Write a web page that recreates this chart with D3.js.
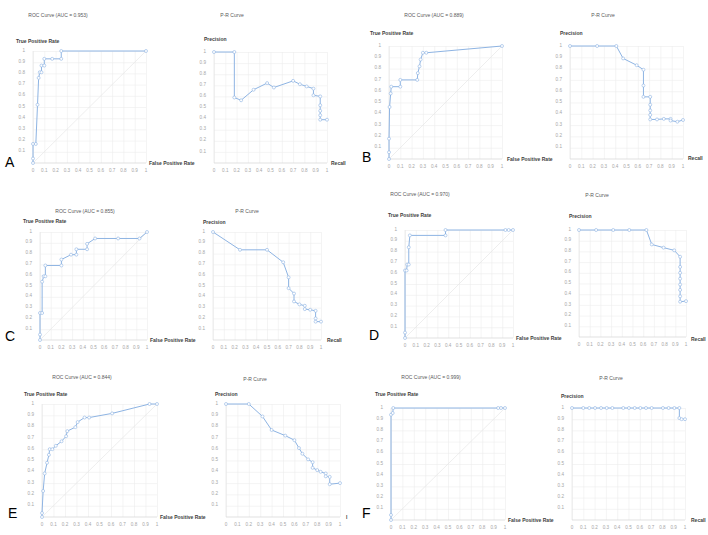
<!DOCTYPE html>
<html><head><meta charset="utf-8">
<script src="https://cdn.jsdelivr.net/npm/d3@7"></script>
<style>
html,body{margin:0;padding:0;background:#fff;}
svg{display:block;font-family:"Liberation Sans",Arial,sans-serif;}
</style></head>
<body><svg id="c" width="708" height="535"></svg>
<script>
// ---- data ----
const panelLetters = ["A","B","C","D","E","F"];
const rocTitles = ["ROC Curve (AUC = 0.953)","ROC Curve (AUC = 0.889)","ROC Curve (AUC = 0.855)","ROC Curve (AUC = 0.970)","ROC Curve (AUC = 0.844)","ROC Curve (AUC = 0.999)"];
const prTitle = "P-R Curve";
const xTicks = [0,0.1,0.2,0.3,0.4,0.5,0.6,0.7,0.8,0.9,1];
const xTickLabels = ["0","0.1","0.2","0.3","0.4","0.5","0.6","0.7","0.8","0.9","1"];
const yTicks = [0.1,0.2,0.3,0.4,0.5,0.6,0.7,0.8,0.9,1];
const yTickLabels = ["0.1","0.2","0.3","0.4","0.5","0.6","0.7","0.8","0.9","1"];

const rocA_fpr = [0,0,0,0.025,0.04,0.05,0.06,0.075,0.075,0.1,0.1,0.17,0.25,0.25,1];
const rocA_tpr = [0,0.04,0.17,0.17,0.52,0.76,0.81,0.81,0.87,0.87,0.93,0.93,0.93,1,1];
const prA_recall = [0,0.18,0.18,0.24,0.35,0.47,0.53,0.70,0.76,0.82,0.88,0.88,0.94,0.94,0.94,0.94,0.94,1];
const prA_precision = [1,1,0.59,0.565,0.66,0.72,0.68,0.74,0.71,0.69,0.67,0.61,0.60,0.52,0.47,0.43,0.39,0.39];

const rocB_fpr = [0,0,0,0.005,0.015,0.02,0.1,0.1,0.25,0.255,0.27,0.28,0.3,0.33,1];
const rocB_tpr = [0,0.06,0.18,0.46,0.58,0.64,0.64,0.7,0.7,0.76,0.82,0.88,0.94,0.94,1];
const prB_recall = [0,0.24,0.41,0.47,0.59,0.65,0.65,0.65,0.71,0.71,0.71,0.71,0.71,0.77,0.83,0.89,0.89,0.95,1];
const prB_precision = [1,1,1,0.89,0.83,0.79,0.65,0.55,0.55,0.48,0.43,0.39,0.35,0.35,0.355,0.355,0.34,0.33,0.345];

const rocC_fpr = [0,0,0,0.02,0.02,0.035,0.05,0.05,0.2,0.2,0.29,0.34,0.34,0.44,0.44,0.515,0.73,0.93,1];
const rocC_tpr = [0,0.05,0.25,0.25,0.54,0.59,0.59,0.69,0.69,0.745,0.79,0.79,0.84,0.84,0.89,0.94,0.94,0.94,1];
const prC_recall = [0,0.25,0.5,0.65,0.70,0.70,0.75,0.75,0.80,0.85,0.85,0.90,0.95,0.95,0.95,1];
const prC_precision = [1,0.835,0.835,0.72,0.58,0.48,0.43,0.357,0.33,0.317,0.286,0.28,0.27,0.20,0.17,0.17];

const rocD_fpr = [0,0,0,0.015,0.02,0.035,0.035,0.045,0.375,0.375,0.93,0.96,1];
const rocD_tpr = [0,0.05,0.625,0.625,0.68,0.68,0.84,0.95,0.95,1,1,1,1];
const prD_recall = [0,0.16,0.32,0.47,0.63,0.68,0.79,0.89,0.945,0.945,0.945,0.945,0.945,0.945,0.945,0.945,1];
const prD_precision = [1,1,1,1,1,0.865,0.835,0.81,0.75,0.655,0.60,0.545,0.49,0.44,0.38,0.33,0.335];

const rocE_fpr = [0,0,0.01,0.023,0.044,0.06,0.067,0.09,0.12,0.17,0.21,0.22,0.29,0.31,0.37,0.41,0.61,0.935,1];
const rocE_tpr = [0,0.035,0.23,0.385,0.48,0.55,0.6,0.6,0.63,0.67,0.715,0.76,0.795,0.84,0.88,0.88,0.917,1,1];
const prE_recall = [0,0.2,0.32,0.40,0.52,0.60,0.64,0.67,0.72,0.76,0.76,0.80,0.83,0.875,0.875,0.91,0.91,1];
const prE_precision = [1,1,0.89,0.77,0.72,0.68,0.61,0.56,0.51,0.485,0.435,0.415,0.40,0.385,0.36,0.355,0.29,0.30];

const rocF_fpr = [0,0,0,0.015,0.02,0.94,0.965,1];
const rocF_tpr = [0,0.045,0.94,0.955,1,1,1,1];
const prF_recall = [0,0.1,0.153,0.204,0.257,0.307,0.357,0.454,0.504,0.555,0.605,0.655,0.705,0.805,0.855,0.906,0.95,0.95,0.97,1];
const prF_precision = [1,1,1,1,1,1,1,1,1,1,1,1,1,1,1,1,1,0.91,0.9,0.9];

const rocData = [[rocA_fpr,rocA_tpr],[rocB_fpr,rocB_tpr],[rocC_fpr,rocC_tpr],[rocD_fpr,rocD_tpr],[rocE_fpr,rocE_tpr],[rocF_fpr,rocF_tpr]];
const prData = [[prA_recall,prA_precision],[prB_recall,prB_precision],[prC_recall,prC_precision],[prD_recall,prD_precision],[prE_recall,prE_precision],[prF_recall,prF_precision]];

// ---- layout (positions only) ----
const layout = [
 {letter:[5,167], roc:{x0:33,x1:146,yT:51,yB:163,title:[58,15],ylab:[16,41],xlab:[149,163]}, pr:{x0:214,x1:327,yT:52,yB:163,title:[232,15],ylab:[204,39],xlab:[331,163]}},
 {letter:[362,162], roc:{x0:389,x1:502,yT:46,yB:159,title:[434,15],ylab:[370,33],xlab:[507,159]}, pr:{x0:570,x1:683,yT:46,yB:159,title:[603,15],ylab:[560,33],xlab:[688,158]}},
 {letter:[5,341], roc:{x0:40,x1:147,yT:232,yB:340,title:[85,211],ylab:[23,221],xlab:[150,340]}, pr:{x0:213,x1:321,yT:232,yB:340,title:[247,211],ylab:[203,222],xlab:[327,340]}},
 {letter:[369,340], roc:{x0:405,x1:513,yT:230,yB:338,title:[420,194],ylab:[388,215],xlab:[516,338]}, pr:{x0:579,x1:686,yT:230,yB:337,title:[597,195],ylab:[569,216],xlab:[691,339]}},
 {letter:[8,518], roc:{x0:42,x1:157,yT:404,yB:517,title:[82,377],ylab:[24,394],xlab:[160,517]}, pr:{x0:226,x1:340,yT:404,yB:517,title:[255,379],ylab:[215,394],xlab:[346,517], xlabText:"l"}},
 {letter:[362,518], roc:{x0:391,x1:505,yT:408,yB:520,title:[431,377],ylab:[375,394],xlab:[508,520]}, pr:{x0:572,x1:685,yT:408,yB:520,title:[611,378],ylab:[561,396],xlab:[691,520]}}
];

const LINE = "#8eb4e3";
const svg = d3.select("#c");

function drawPlot(L, xs, ys, title, ylabText, xlabText, diag) {
  const g = svg.append("g");
  const x = d3.scaleLinear().domain([0,1]).range([L.x0, L.x1]);
  const y = d3.scaleLinear().domain([0,1]).range([L.yB, L.yT]);
  // grid
  const gx = g.append("g").attr("transform",`translate(0,${L.yB})`)
    .call(d3.axisBottom(x).tickValues(xTicks).tickSize(-(L.yB-L.yT)).tickFormat(""));
  gx.select(".domain").remove();
  gx.selectAll(".tick line").attr("stroke","#ececec").attr("stroke-width",0.6);
  const gy = g.append("g").attr("transform",`translate(${L.x0},0)`)
    .call(d3.axisLeft(y).tickValues(yTicks).tickSize(-(L.x1-L.x0)).tickFormat(""));
  gy.select(".domain").remove();
  gy.selectAll(".tick line").attr("stroke","#ececec").attr("stroke-width",0.6);
  // axis lines
  g.append("line").attr("x1",x(0)).attr("x2",x(1)).attr("y1",y(0)).attr("y2",y(0)).attr("stroke","#d9d9d9").attr("stroke-width",0.8);
  g.append("line").attr("x1",x(0)).attr("x2",x(0)).attr("y1",y(0)).attr("y2",y(1)).attr("stroke","#e3e3e3").attr("stroke-width",0.6);
  // tick labels
  g.append("g").selectAll("text").data(xTicks).join("text")
    .attr("x",d=>x(d)).attr("y",L.yB+7).attr("dy","0.35em").attr("text-anchor","middle")
    .attr("font-size",4.6).attr("fill","#a6a6a6").text((d,i)=>xTickLabels[i]);
  g.append("g").selectAll("text").data(yTicks).join("text")
    .attr("x",L.x0-8).attr("y",d=>y(d)-1).attr("dy","0.35em").attr("text-anchor","end")
    .attr("font-size",4.6).attr("fill","#a6a6a6").text((d,i)=>yTickLabels[i]);
  if (diag) {
    g.append("line").attr("x1",x(0)).attr("y1",y(0)).attr("x2",x(1)).attr("y2",y(1))
      .attr("stroke","#e6e6e6").attr("stroke-width",0.7);
  }
  // titles
  g.append("text").attr("x",title[0]).attr("y",title[1]).attr("dy","0.35em").attr("text-anchor","middle")
    .attr("font-size",5).attr("fill","#595959").text(title[2]);
  g.append("text").attr("x",L.ylab[0]).attr("y",L.ylab[1]).attr("dy","0.35em")
    .attr("font-size",5).attr("font-weight","bold").attr("fill","#404040").text(ylabText);
  g.append("text").attr("x",L.xlab[0]).attr("y",L.xlab[1]).attr("dy","0.35em")
    .attr("font-size",5).attr("font-weight","bold").attr("fill","#404040").text(L.xlabText || xlabText);
  // curve
  const pts = xs.map((v,i)=>[v, ys[i]]);
  g.append("path").datum(pts)
    .attr("d", d3.line().x(d=>x(d[0])).y(d=>y(d[1])))
    .attr("fill","none").attr("stroke",LINE).attr("stroke-width",1);
  g.append("g").selectAll("circle").data(pts).join("circle")
    .attr("cx",d=>x(d[0])).attr("cy",d=>y(d[1])).attr("r",1.5)
    .attr("fill","#fff").attr("stroke",LINE).attr("stroke-width",0.6);
}

layout.forEach((L,i)=>{
  drawPlot(L.roc, rocData[i][0], rocData[i][1], [...L.roc.title, rocTitles[i]], "True Positive Rate", "False Positive Rate", true);
  drawPlot(L.pr, prData[i][0], prData[i][1], [...L.pr.title, prTitle], "Precision", "Recall", false);
  svg.append("text").attr("x",L.letter[0]).attr("y",L.letter[1])
    .attr("font-size",14).attr("fill","#000").text(panelLetters[i]);
});
</script></body></html>
